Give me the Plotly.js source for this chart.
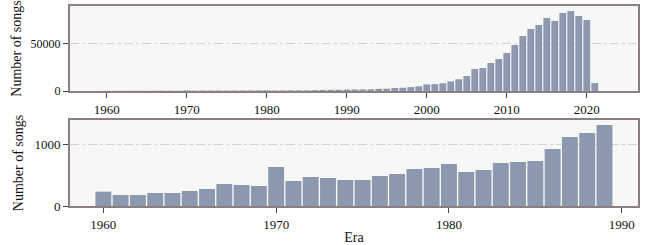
<!DOCTYPE html>
<html>
<head>
<meta charset="utf-8">
<script src="https://cdn.plot.ly/plotly-3.0.1.min.js"></script>
<style>html,body{margin:0;padding:0;background:#fff;}#chart{width:648px;height:245px;}</style>
</head>
<body>
<div id="chart"></div>
<script>
const years = [1960,1961,1962,1963,1964,1965,1966,1967,1968,1969,
  1970,1971,1972,1973,1974,1975,1976,1977,1978,1979,
  1980,1981,1982,1983,1984,1985,1986,1987,1988,1989,
  1990,1991,1992,1993,1994,1995,1996,1997,1998,1999,
  2000,2001,2002,2003,2004,2005,2006,2007,2008,2009,
  2010,2011,2012,2013,2014,2015,2016,2017,2018,2019,
  2020,2021];
const songs = [231,177,177,210,210,242,274,355,339,323,
  629,403,468,452,419,419,484,516,597,613,
  677,548,581,694,710,726,919,1113,1177,1306,
  1500,1600,1700,1800,2300,2500,3200,3400,4200,5000,
  7000,7200,8200,10200,12500,15900,23400,24500,29800,34000,
  40400,48900,58500,66000,70200,77700,74500,83000,85100,79800,
  75500,8500];
const zoomStart = 1960, zoomEnd = 1989;
const zoomYears = years.filter(y => y >= zoomStart && y <= zoomEnd);
const zoomSongs = songs.filter((v, i) => years[i] >= zoomStart && years[i] <= zoomEnd);

const barColor = '#8c98ae';
const frame = '#8b7f80';
const fontFam = 'Liberation Serif';

const traces = [
  {type:'bar', x:years, y:songs, width:0.85, xaxis:'x', yaxis:'y',
   marker:{color:barColor, line:{width:0}}, hoverinfo:'none'},
  {type:'bar', x:zoomYears, y:zoomSongs, width:0.92, xaxis:'x2', yaxis:'y2',
   marker:{color:barColor, line:{width:0}}, hoverinfo:'none'}
];

const axBase = {
  showline:true, mirror:true, linecolor:frame, linewidth:2,
  ticks:'outside', ticklen:5, tickwidth:1, tickcolor:'#444',
  zeroline:false, fixedrange:true, tickformat:'d'
};

const layout = {
  width:648, height:245,
  margin:{l:70, r:10, t:6, b:39},
  paper_bgcolor:'#ffffff', plot_bgcolor:'#f7f7f7',
  showlegend:false,
  font:{family:fontFam, color:'#111', size:13},
  xaxis: Object.assign({}, axBase, {
    anchor:'y', range:[1955.4, 2026.4], tickvals:[1960,1970,1980,1990,2000,2010,2020],
    showgrid:false, tickfont:{size:13}
  }),
  yaxis: Object.assign({}, axBase, {
    anchor:'x', domain:[0.575, 1], range:[0, 90400], tickvals:[0, 50000],
    showgrid:true, gridcolor:'#d4d4d4', griddash:'dashdot', gridwidth:1,
    tickfont:{size:12},
    title:{text:'Number of songs', font:{size:14}, standoff:6}
  }),
  xaxis2: Object.assign({}, axBase, {
    anchor:'y2', range:[1958.07, 1990.94], tickvals:[1960,1970,1980,1990],
    showgrid:false, tickfont:{size:13},
    title:{text:'Era', font:{size:14}, standoff:2}
  }),
  yaxis2: Object.assign({}, axBase, {
    anchor:'x2', domain:[0, 0.43], range:[0, 1387], tickvals:[0, 1000],
    showgrid:true, gridcolor:'#d4d4d4', griddash:'dashdot', gridwidth:1,
    tickfont:{size:13},
    title:{text:'Number of songs', font:{size:14}, standoff:8}
  })
};

Plotly.newPlot('chart', traces, layout, {staticPlot:true, displayModeBar:false});
</script>
</body>
</html>
